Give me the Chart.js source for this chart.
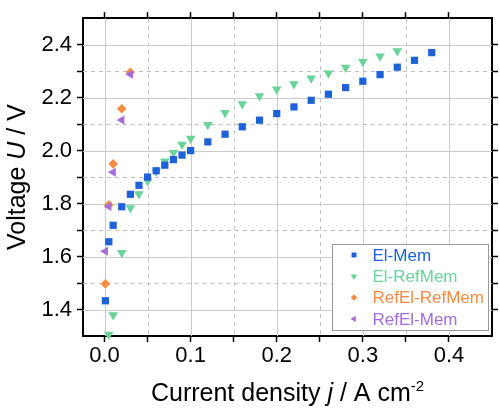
<!DOCTYPE html>
<html>
<head>
<meta charset="utf-8">
<script src="https://cdn.jsdelivr.net/npm/chart.js@4/dist/chart.umd.min.js"></script>
<style>
html,body{margin:0;padding:0;background:#fff;}
#wrap{width:500px;height:414px;position:relative;}
</style>
</head>
<body>
<div id="wrap"><canvas id="c" width="500" height="414"></canvas></div>
<script>
// ---- data ----
const seriesLabels = ['El-Mem', 'El-RefMem', 'RefEl-RefMem', 'RefEl-Mem'];

const elMemX = [0.001,0.005,0.01,0.02,0.03,0.04,0.05,0.06,0.07,0.08,0.09,0.10,0.12,0.14,0.16,0.18,0.20,0.22,0.24,0.26,0.28,0.30,0.32,0.34,0.36,0.38];
const elMemY = [1.433,1.656,1.718,1.788,1.835,1.869,1.900,1.924,1.945,1.966,1.983,2.000,2.033,2.062,2.090,2.115,2.140,2.165,2.190,2.213,2.238,2.262,2.287,2.315,2.341,2.370];

const elRefMemX = [0.005,0.01,0.02,0.03,0.04,0.05,0.06,0.07,0.08,0.09,0.10,0.12,0.14,0.16,0.18,0.20,0.22,0.24,0.26,0.28,0.30,0.32,0.34];
const elRefMemY = [1.306,1.379,1.614,1.783,1.836,1.885,1.921,1.960,1.992,2.023,2.046,2.098,2.143,2.176,2.206,2.232,2.252,2.273,2.292,2.314,2.336,2.356,2.376];

const refElRefMemX = [0.001,0.005,0.01,0.02,0.03];
const refElRefMemY = [1.497,1.795,1.950,2.158,2.296];

const refElMemX = [0.001,0.005,0.01,0.02,0.03];
const refElMemY = [1.620,1.789,1.918,2.116,2.288];

const xTickValues = [0,0.05,0.1,0.15,0.2,0.25,0.3,0.35,0.4];
const xTickLabels = ['0.0','','0.1','','0.2','','0.3','','0.4'];
const yTickValues = [1.4,1.5,1.6,1.7,1.8,1.9,2.0,2.1,2.2,2.3,2.4];
const yTickLabels = ['1.4','','1.6','','1.8','','2.0','','2.2','','2.4'];

// ---- helpers ----
const FONT = "'Liberation Sans', Arial, Helvetica, sans-serif";
const colors = ['#1d62d8', '#6ad39a', '#f58c42', '#a56cd8'];
const styles = ['rect', 'triangle', 'rectRot', 'triangle'];
const rotations = [0, 180, 0, -90];
const radii = [5.1, 5.5, 4.8, 5.2];
const orders = [1, 2, 3, 0];

function toPoints(xs, ys){ return xs.map((x,i)=>({x:x, y:ys[i]})); }
const seriesData = [
  toPoints(elMemX, elMemY),
  toPoints(elRefMemX, elRefMemY),
  toPoints(refElRefMemX, refElRefMemY),
  toPoints(refElMemX, refElMemY)
];

const datasets = seriesLabels.map((lab,i)=>({
  label: lab,
  data: seriesData[i],
  pointStyle: styles[i],
  rotation: rotations[i],
  pointRadius: radii[i],
  pointHoverRadius: radii[i],
  backgroundColor: colors[i],
  borderColor: colors[i],
  borderWidth: 0,
  showLine: false,
  clip: false,
  order: orders[i]
}));

function setTicks(vals){ return (s)=>{ s.ticks = vals.map(v=>({value:v})); }; }
function labelFor(vals, labels){
  return (value)=>{ for(let i=0;i<vals.length;i++){ if(Math.abs(vals[i]-value)<1e-9) return labels[i]; } return ''; };
}

const gridPlugin = {
  id: 'gridPlugin',
  beforeDatasetsDraw(chart){
    const {ctx, chartArea:a, scales} = chart;
    ctx.save();
    ctx.beginPath(); ctx.rect(a.left, a.top, a.right-a.left, a.bottom-a.top); ctx.clip();
    ctx.lineWidth = 1;
    xTickValues.forEach((v,i)=>{
      const px = Math.round(scales.x.getPixelForValue(v)) + 0.5;
      const major = xTickLabels[i] !== '';
      ctx.strokeStyle = major ? '#cbcbcb' : '#c0c0c0';
      ctx.setLineDash(major ? [] : [4,4]);
      ctx.beginPath(); ctx.moveTo(px, a.top); ctx.lineTo(px, a.bottom); ctx.stroke();
    });
    yTickValues.forEach((v,i)=>{
      const py = Math.round(scales.y.getPixelForValue(v)) + 0.5;
      const major = yTickLabels[i] !== '';
      ctx.strokeStyle = major ? '#cbcbcb' : '#c0c0c0';
      ctx.setLineDash(major ? [] : [4,4]);
      ctx.beginPath(); ctx.moveTo(a.left, py); ctx.lineTo(a.right, py); ctx.stroke();
    });
    ctx.restore();
  },
  afterDraw(chart){
    const {ctx, chartArea:a} = chart;
    ctx.save();
    // axis titles
    ctx.fillStyle = '#000';
    ctx.textBaseline = 'alphabetic';
    const fs = 25;
    const nf = fs + 'px ' + FONT, itf = 'italic ' + fs + 'px ' + FONT, sf = '15px ' + FONT;
    // x title
    const xparts = [['Current density ', nf, 0], ['j', itf, 0], [' / A cm', nf, 0], ['-2', sf, -10]];
    let tw = 0;
    xparts.forEach(p=>{ ctx.font = p[1]; tw += ctx.measureText(p[0]).width; });
    let x0 = (a.left + a.right)/2 - tw/2;
    const by = 401;
    xparts.forEach(p=>{ ctx.font = p[1]; ctx.textAlign='left'; ctx.fillText(p[0], x0, by + p[2]); x0 += ctx.measureText(p[0]).width; });
    // y title
    const yparts = [['Voltage ', nf], ['U', itf], [' / V', nf]];
    tw = 0;
    yparts.forEach(p=>{ ctx.font = p[1]; tw += ctx.measureText(p[0]).width; });
    ctx.translate(25, (a.top + a.bottom)/2);
    ctx.rotate(-Math.PI/2);
    let y0 = -tw/2;
    yparts.forEach(p=>{ ctx.font = p[1]; ctx.textAlign='left'; ctx.fillText(p[0], y0, 0); y0 += ctx.measureText(p[0]).width; });
    ctx.restore();

    // legend
    ctx.save();
    const lx = 332, ly = 244, lw = 156, lh = 86;
    ctx.fillStyle = '#fff';
    ctx.fillRect(lx, ly, lw, lh);
    ctx.strokeStyle = '#9a9a9a';
    ctx.lineWidth = 1;
    ctx.strokeRect(lx+0.5, ly+0.5, lw, lh);
    ctx.font = '17px ' + FONT;
    ctx.textBaseline = 'middle';
    ctx.textAlign = 'left';
    chart.data.datasets.forEach((ds,i)=>{
      const cy = 255 + i*21.3;
      ctx.fillStyle = ds.backgroundColor;
      ctx.strokeStyle = ds.borderColor;
      const opts = {pointStyle: ds.pointStyle, rotation: ds.rotation, radius: ds.pointRadius*0.68, borderWidth: 0};
      if (Chart.helpers && Chart.helpers.drawPoint) {
        Chart.helpers.drawPoint(ctx, opts, 354, cy);
      }
      ctx.fillStyle = ds.backgroundColor;
      ctx.fillText(ds.label, 372.5, cy + 1);
    });
    ctx.restore();
  }
};

const tickFont = {family: FONT, size: 22};

new Chart(document.getElementById('c'), {
  type: 'scatter',
  data: { datasets },
  options: {
    responsive: false,
    animation: false,
    events: [],
    layout: { padding: 0 },
    plugins: { legend: {display:false}, tooltip: {enabled:false}, title:{display:false} },
    scales: {
      x: {
        type: 'linear', position: 'bottom', min: -0.025, max: 0.45,
        afterBuildTicks: setTicks(xTickValues),
        afterFit: (s)=>{ s.height = 78; },
        ticks: { callback: labelFor(xTickValues, xTickLabels), autoSkip:false, maxRotation:0, color:'#000', font: tickFont, padding: 1 },
        grid: { display:true, drawOnChartArea:false, drawTicks:true, tickLength:6, tickWidth:1.5, tickColor:'#000' },
        border: { display:true, color:'#000', width:2 }
      },
      x2: {
        type: 'linear', position: 'top', min: -0.025, max: 0.45,
        afterBuildTicks: setTicks(xTickValues),
        afterFit: (s)=>{ s.height = 7; },
        ticks: { display:false },
        grid: { display:true, drawOnChartArea:false, drawTicks:true, tickLength:6, tickWidth:1.5, tickColor:'#000' },
        border: { display:true, color:'#000', width:2 }
      },
      y: {
        type: 'linear', position: 'left', min: 1.3, max: 2.5,
        afterBuildTicks: setTicks(yTickValues),
        afterFit: (s)=>{ s.width = 83; },
        ticks: { callback: labelFor(yTickValues, yTickLabels), autoSkip:false, color:'#000', font: tickFont, padding: 5 },
        grid: { display:true, drawOnChartArea:false, drawTicks:true, tickLength:6, tickWidth:1.5, tickColor:'#000' },
        border: { display:true, color:'#000', width:2 }
      },
      y2: {
        type: 'linear', position: 'right', min: 1.3, max: 2.5,
        afterBuildTicks: setTicks(yTickValues),
        afterFit: (s)=>{ s.width = 8; },
        ticks: { display:false },
        grid: { display:true, drawOnChartArea:false, drawTicks:true, tickLength:6, tickWidth:1.5, tickColor:'#000' },
        border: { display:true, color:'#000', width:2 }
      }
    }
  },
  plugins: [gridPlugin]
});
</script>
</body>
</html>
